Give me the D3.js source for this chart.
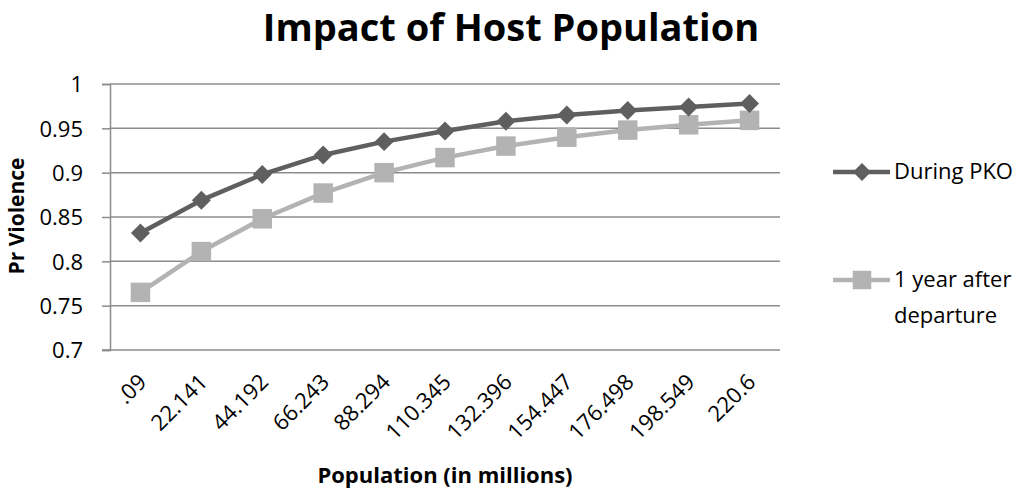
<!DOCTYPE html>
<html>
<head>
<meta charset="utf-8">
<script src="https://cdn.jsdelivr.net/npm/d3@7"></script>
<style>
	body { margin: 0; background: #fff; }
	text { font-family: "Open Sans", "Liberation Sans", sans-serif; fill: #000; }
</style>
</head>
<body>
<svg id="chart" width="1018" height="491"></svg>
<script>
// categories (population in millions) and the two series
var categories = [".09", "22.141", "44.192", "66.243", "88.294", "110.345", "132.396", "154.447", "176.498", "198.549", "220.6"];
var duringPKO = [0.832, 0.869, 0.898, 0.920, 0.935, 0.947, 0.958, 0.965, 0.970, 0.974, 0.978];
var yearAfter = [0.765, 0.811, 0.848, 0.877, 0.900, 0.917, 0.930, 0.940, 0.948, 0.954, 0.959];
var yTicks = [0.7, 0.75, 0.8, 0.85, 0.9, 0.95, 1];

var svg = d3.select("#chart");

var plot = {left: 110, right: 780, top: 84, bottom: 350};

var x = d3.scaleBand().domain(categories).range([plot.left, plot.right]);
var y = d3.scaleLinear().domain([0.7, 1]).range([plot.bottom, plot.top]);

// diamond drawn as a square turned 45 degrees (d3's own diamond is too tall)
var squareDiamond = {
	draw: function(ctx, size) {
		var r = Math.sqrt(size / 2);
		ctx.moveTo(0, -r);
		ctx.lineTo(r, 0);
		ctx.lineTo(0, r);
		ctx.lineTo(-r, 0);
		ctx.closePath();
	}
};

// title
svg.append("text")
	.attr("x", 511).attr("y", 41)
	.attr("text-anchor", "middle")
	.style("font-size", "38px").style("font-weight", "bold")
	.text("Impact of Host Population");

// gridlines
svg.append("g").selectAll("line")
	.data(yTicks.slice(1))
	.enter().append("line")
	.attr("x1", plot.left).attr("x2", plot.right)
	.attr("y1", function(d) { return y(d); })
	.attr("y2", function(d) { return y(d); })
	.style("stroke", "#8c8c8c").style("stroke-width", 1.5);

// y axis
var yAxis = d3.axisLeft(y).tickValues(yTicks).tickSize(8).tickPadding(19)
	.tickFormat(function(d) { return d3.format("")(+d.toFixed(2)); });
var gy = svg.append("g").attr("transform", "translate(" + plot.left + ",0)").call(yAxis);
gy.select(".domain").style("stroke", "#8c8c8c").style("stroke-width", 1.5);
gy.selectAll(".tick line").style("stroke", "#8c8c8c").style("stroke-width", 1.5);
gy.selectAll(".tick text").style("font-size", "22px").style("font-family", "'Open Sans', sans-serif").attr("dy", "0.35em");

// x axis
var xAxis = d3.axisBottom(x).tickSize(0).tickPadding(0);
var gx = svg.append("g").attr("transform", "translate(0," + plot.bottom + ")").call(xAxis);
gx.select(".domain").attr("d", "M" + (plot.left - 8) + ",0H" + plot.right).style("stroke", "#8c8c8c").style("stroke-width", 1.5);
gx.selectAll(".tick text")
	.style("font-size", "22px").style("font-family", "'Open Sans', sans-serif")
	.attr("text-anchor", "end")
	.attr("transform", "translate(2,28) rotate(-45)")
	.attr("dy", "0.35em").attr("y", 0).attr("x", 0);

// axis titles
svg.append("text")
	.attr("transform", "translate(24,216) rotate(-90)")
	.attr("text-anchor", "middle")
	.style("font-size", "21px").style("font-weight", "bold")
	.text("Pr Violence");

svg.append("text")
	.attr("x", 445).attr("y", 483)
	.attr("text-anchor", "middle")
	.style("font-size", "22px").style("font-weight", "bold")
	.text("Population (in millions)");

var cx = function(d, i) { return x(categories[i]) + x.bandwidth() / 2; };

var line = d3.line()
	.x(function(d, i) { return cx(d, i); })
	.y(function(d) { return y(d); });

var series = [
	{name: "During PKO", values: duringPKO, color: "#5f5f5f", marker: squareDiamond, size: 180},
	{name: "1 year after departure", values: yearAfter, color: "#b3b3b3", marker: d3.symbolSquare, size: 380}
];

// draw light series first, dark on top
series.slice().reverse().forEach(function(s) {
	svg.append("path")
		.datum(s.values)
		.attr("d", line)
		.style("fill", "none")
		.style("stroke", s.color)
		.style("stroke-width", 4.5)
		.style("stroke-linejoin", "round");

	svg.append("g").selectAll("path")
		.data(s.values)
		.enter().append("path")
		.attr("d", d3.symbol().type(s.marker).size(s.size))
		.attr("transform", function(d, i) { return "translate(" + cx(d, i) + "," + y(d) + ")"; })
		.style("fill", s.color);
});

// legend
var legendRows = [
	{s: series[0], y: 172, lines: ["During PKO"]},
	{s: series[1], y: 280, lines: ["1 year after", "departure"]}
];
legendRows.forEach(function(r) {
	var g = svg.append("g");
	g.append("line")
		.attr("x1", 833).attr("x2", 890)
		.attr("y1", r.y).attr("y2", r.y)
		.style("stroke", r.s.color).style("stroke-width", 4.5);
	g.append("path")
		.attr("d", d3.symbol().type(r.s.marker).size(r.s.size * 0.9))
		.attr("transform", "translate(862," + r.y + ")")
		.style("fill", r.s.color);
	r.lines.forEach(function(t, j) {
		g.append("text")
			.attr("x", 894).attr("y", r.y + j * 36)
			.attr("dy", "0.3em")
			.style("font-size", "22px")
			.text(t);
	});
});
</script>
</body>
</html>
